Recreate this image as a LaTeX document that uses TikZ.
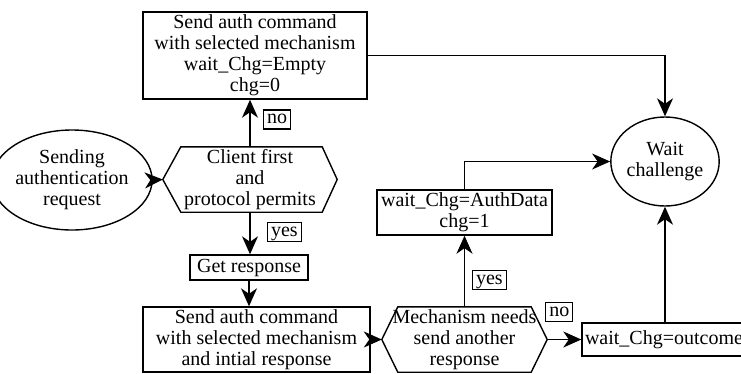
\documentclass[tikz,border=0pt]{standalone}
\usepackage{fontspec}
\setmainfont{Liberation Serif}
\usetikzlibrary{arrows.meta,shapes.geometric}
\begin{document}
\begin{tikzpicture}[x=1pt,y=-1pt,
  every node/.style={font=\fontsize{20}{21}\selectfont, align=center, inner sep=0pt},
  box/.style={draw, line width=1.4pt, rectangle},
  oval/.style={draw, line width=1.4pt, ellipse},
  hexa/.style={rectangle},
  tag/.style={draw, line width=1.1pt, inner xsep=3.5pt, inner ysep=1pt, text height=13pt, text depth=4pt},
  flow/.style={line width=1.4pt, -{Stealth[length=18pt,width=16pt,inset=5.5pt]}}]
\useasboundingbox (0,0) rectangle (741,373);
\clip (0,0) rectangle (741,373);

% states and steps
\node[oval, minimum width=119pt, minimum height=100pt] (start) at (72,180)
  {Sending\\authentication\\request};
\node[box, minimum width=224pt, minimum height=87pt] (plain) at (255,55.5)
  {Send auth command\\with selected mechanism\\wait\_Chg=Empty\\chg=0};
\node[hexa, minimum width=174pt, minimum height=65pt] (first) at (250,179.5)
  {Client first\\and\\protocol permits};
\node[box, minimum width=118pt, minimum height=25pt] (resp) at (249,267.5)
  {Get response};
\node[box, minimum width=227pt, minimum height=65pt] (initial) at (256.5,339.5)
  {Send auth command\\with selected mechanism\\and intial response};
\node[hexa, minimum width=165pt, minimum height=65pt] (more) at (464.5,339.5)
  {Mechanism needs\\send another\\response};
\node[box, minimum width=175pt, minimum height=45pt] (auth) at (464.5,212.5)
  {wait\_Chg=AuthData\\chg=1};
\node[oval, minimum width=96pt, minimum height=89pt] (wait) at (665,161.5)
  {Wait\\challenge};
\node[box, minimum width=175pt, minimum height=33pt, text width=169pt, align=left] (outc) at (669.5,339.5)
  {wait\_Chg=outcome};

% hexagonal decision outlines
\draw[line width=1.4pt] (first.west) -- ([xshift=18pt]first.north west) -- ([xshift=-15pt]first.north east)
  -- (first.east) -- ([xshift=-15pt]first.south east) -- ([xshift=18pt]first.south west) -- cycle;
\draw[line width=1.4pt] (more.west) -- ([xshift=16pt]more.north west) -- ([xshift=-16pt]more.north east)
  -- (more.east) -- ([xshift=-16pt]more.south east) -- ([xshift=16pt]more.south west) -- cycle;

% connectors
\draw[flow] (start.east) -- (first.west);
\draw[flow] (first.north) -- (first.north |- plain.south)
  node[tag, pos=0.58, right=13pt] {no};
\draw[flow] (first.south) -- (first.south |- resp.north)
  node[tag, pos=0.48, right=17pt] {yes};
\draw[flow] (resp.south) -- (resp.south |- initial.north);
\draw[flow] (initial.east) -- (more.west);
\draw[flow] (more.north) -- (auth.south)
  node[tag, pos=0.375, right=7.5pt] {yes};
\draw[flow] (more.east) -- (outc.west)
  node[tag, pos=0.357, above=17.5pt] {no};
\draw[flow] (outc.north -| wait.south) -- (wait.south);
\draw[flow] (auth.north) |- (wait.west);
\draw[flow] (plain.east) -| (wait.north);
\end{tikzpicture}
\end{document}
